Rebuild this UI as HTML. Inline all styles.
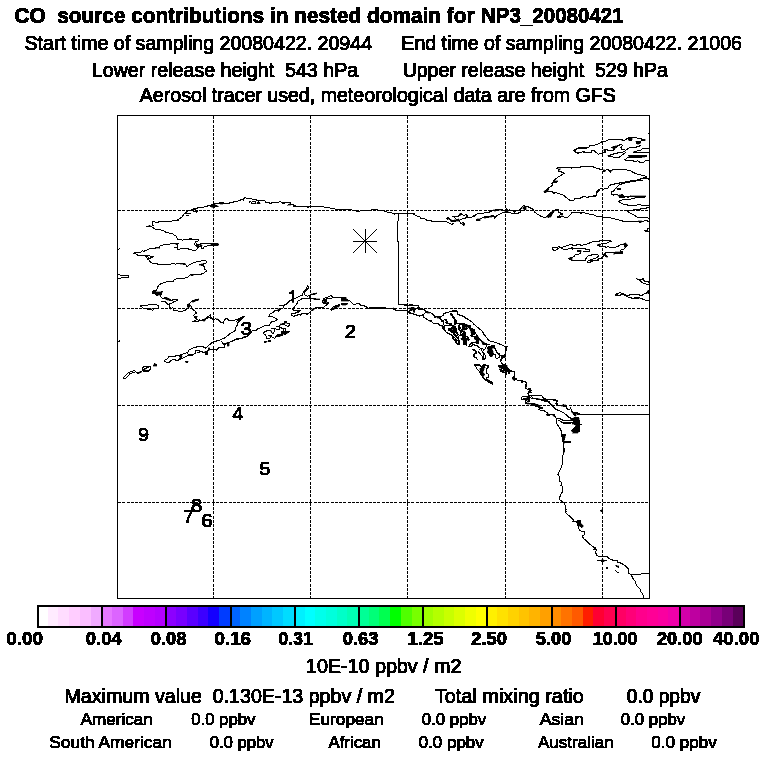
<!DOCTYPE html>
<html><head><meta charset="utf-8">
<style>
html,body{margin:0;padding:0;background:#fff;}
body{width:768px;height:768px;position:relative;overflow:hidden;}
svg{position:absolute;left:0;top:0;}
text{font-family:"Liberation Sans",sans-serif;fill:#000;white-space:pre;}
</style></head><body>
<svg width="768" height="768" viewBox="0 0 768 768">
<g shape-rendering="crispEdges">
<rect x="117.5" y="115.5" width="532" height="483" fill="none" stroke="#000" stroke-width="1"/>
<rect x="37" y="607" width="11" height="19" fill="#FFFFFF"/>
<rect x="48" y="607" width="10" height="19" fill="#FFEBFF"/>
<rect x="58" y="607" width="11" height="19" fill="#FFDCFF"/>
<rect x="69" y="607" width="11" height="19" fill="#FFCDFF"/>
<rect x="80" y="607" width="11" height="19" fill="#FABEFF"/>
<rect x="91" y="607" width="10" height="19" fill="#F0AAFF"/>
<rect x="101" y="607" width="11" height="19" fill="#E678FF"/>
<rect x="112" y="607" width="11" height="19" fill="#DC64FF"/>
<rect x="123" y="607" width="10" height="19" fill="#D23CFF"/>
<rect x="133" y="607" width="11" height="19" fill="#C800FF"/>
<rect x="144" y="607" width="11" height="19" fill="#BE00FF"/>
<rect x="155" y="607" width="10" height="19" fill="#B400FF"/>
<rect x="165" y="607" width="11" height="19" fill="#8C00FF"/>
<rect x="176" y="607" width="11" height="19" fill="#7800FF"/>
<rect x="187" y="607" width="11" height="19" fill="#5A00FF"/>
<rect x="198" y="607" width="10" height="19" fill="#3C00FF"/>
<rect x="208" y="607" width="11" height="19" fill="#1400FF"/>
<rect x="219" y="607" width="11" height="19" fill="#003CFF"/>
<rect x="230" y="607" width="10" height="19" fill="#0064FF"/>
<rect x="240" y="607" width="11" height="19" fill="#0082FF"/>
<rect x="251" y="607" width="11" height="19" fill="#00A0FF"/>
<rect x="262" y="607" width="10" height="19" fill="#00B4FF"/>
<rect x="272" y="607" width="11" height="19" fill="#00C8FF"/>
<rect x="283" y="607" width="11" height="19" fill="#00DCFF"/>
<rect x="294" y="607" width="11" height="19" fill="#00F0FF"/>
<rect x="305" y="607" width="10" height="19" fill="#00FFFF"/>
<rect x="315" y="607" width="11" height="19" fill="#00FFEB"/>
<rect x="326" y="607" width="11" height="19" fill="#00FFDC"/>
<rect x="337" y="607" width="10" height="19" fill="#00FFC8"/>
<rect x="347" y="607" width="11" height="19" fill="#00FFB4"/>
<rect x="358" y="607" width="11" height="19" fill="#00FF96"/>
<rect x="369" y="607" width="10" height="19" fill="#00FF78"/>
<rect x="379" y="607" width="11" height="19" fill="#00FF50"/>
<rect x="390" y="607" width="11" height="19" fill="#00FF00"/>
<rect x="401" y="607" width="11" height="19" fill="#50FF00"/>
<rect x="412" y="607" width="10" height="19" fill="#78FF00"/>
<rect x="422" y="607" width="11" height="19" fill="#A0FF00"/>
<rect x="433" y="607" width="11" height="19" fill="#B4FF00"/>
<rect x="444" y="607" width="10" height="19" fill="#C8FF00"/>
<rect x="454" y="607" width="11" height="19" fill="#DCFF00"/>
<rect x="465" y="607" width="11" height="19" fill="#F0FF00"/>
<rect x="476" y="607" width="10" height="19" fill="#FFFF00"/>
<rect x="486" y="607" width="11" height="19" fill="#FFF000"/>
<rect x="497" y="607" width="11" height="19" fill="#FFE100"/>
<rect x="508" y="607" width="11" height="19" fill="#FFD200"/>
<rect x="519" y="607" width="10" height="19" fill="#FFC300"/>
<rect x="529" y="607" width="11" height="19" fill="#FFB400"/>
<rect x="540" y="607" width="11" height="19" fill="#FFA000"/>
<rect x="551" y="607" width="10" height="19" fill="#FF8C00"/>
<rect x="561" y="607" width="11" height="19" fill="#FF7300"/>
<rect x="572" y="607" width="11" height="19" fill="#FF5A00"/>
<rect x="583" y="607" width="10" height="19" fill="#FF1E00"/>
<rect x="593" y="607" width="11" height="19" fill="#FF0032"/>
<rect x="604" y="607" width="11" height="19" fill="#FF0050"/>
<rect x="615" y="607" width="11" height="19" fill="#FF0064"/>
<rect x="626" y="607" width="10" height="19" fill="#FF0078"/>
<rect x="636" y="607" width="11" height="19" fill="#FF008C"/>
<rect x="647" y="607" width="11" height="19" fill="#FF0096"/>
<rect x="658" y="607" width="10" height="19" fill="#FA00A0"/>
<rect x="668" y="607" width="11" height="19" fill="#F000AA"/>
<rect x="679" y="607" width="11" height="19" fill="#D200AA"/>
<rect x="690" y="607" width="10" height="19" fill="#BE00A0"/>
<rect x="700" y="607" width="11" height="19" fill="#AA0096"/>
<rect x="711" y="607" width="11" height="19" fill="#91008C"/>
<rect x="722" y="607" width="11" height="19" fill="#780078"/>
<rect x="733" y="607" width="11" height="19" fill="#5A005A"/>
<rect x="38" y="606" width="706" height="21" fill="none" stroke="#000" stroke-width="2"/>
<rect x="101" y="606" width="2" height="21" fill="#000"/>
<rect x="165" y="606" width="2" height="21" fill="#000"/>
<rect x="230" y="606" width="2" height="21" fill="#000"/>
<rect x="294" y="606" width="2" height="21" fill="#000"/>
<rect x="358" y="606" width="2" height="21" fill="#000"/>
<rect x="422" y="606" width="2" height="21" fill="#000"/>
<rect x="486" y="606" width="2" height="21" fill="#000"/>
<rect x="551" y="606" width="2" height="21" fill="#000"/>
<rect x="615" y="606" width="2" height="21" fill="#000"/>
<rect x="679" y="606" width="2" height="21" fill="#000"/>
</g>
<g shape-rendering="crispEdges" stroke="#000" stroke-width="1" fill="none" stroke-dasharray="3 1.25">
<line x1="213.5" y1="116" x2="213.5" y2="598"/>
<line x1="310.5" y1="116" x2="310.5" y2="598"/>
<line x1="407.5" y1="116" x2="407.5" y2="598"/>
<line x1="505.5" y1="116" x2="505.5" y2="598"/>
<line x1="602.5" y1="116" x2="602.5" y2="598"/>
<line x1="118" y1="210.5" x2="649" y2="210.5"/>
<line x1="118" y1="308.5" x2="649" y2="308.5"/>
<line x1="118" y1="405.5" x2="649" y2="405.5"/>
<line x1="118" y1="502.5" x2="649" y2="502.5"/>
</g>
<clipPath id="mc"><rect x="118" y="116" width="531" height="482"/></clipPath>
<g clip-path="url(#mc)" shape-rendering="crispEdges">
<path d="M180.0 218.1 L178.1 220.2 L172.2 220.8 L171.4 221.4 L158.9 221.4 L158.1 222.5 L155.2 222.5 L154.8 221.4 L152.4 221.4 L152.4 225.3 L153.9 225.6 M146.4 226.7 L152.2 227.0 L155.2 229.3 L162.7 230.2 L164.3 231.4 L166.0 232.4 L172.7 233.7 L174.3 235.2 L176.4 236.4 L177.7 239.3 L180.0 239.3 M180.0 249.3 L177.2 249.3 L177.2 244.3 L178.9 243.5 L174.3 243.7 L166.0 244.3 L160.2 245.6 L159.3 247.7 L150.2 248.5 L146.8 250.2 L143.5 251.4 L142.7 250.6 L140.2 252.7 L134.3 252.7 L133.9 253.5 L136.8 254.3 L138.1 255.6 L145.2 255.6 L146.8 257.7 L148.5 260.0 M173.5 247.4 L177.2 247.4 M146.4 255.6 L153.9 256.4 L149.3 258.5 L146.4 255.6 M117.7 249.8 L119.8 248.5 M176.0 220.6 L178.5 219.3 L181.8 217.2 L184.3 213.9 L187.7 211.0 L192.2 209.8 L193.9 208.5 L203.5 207.2 L211.8 204.8 L215.2 203.5 L219.3 203.1 L229.3 203.1 L230.2 202.2 L236.4 201.8 L240.0 200.2 M184.3 213.9 L191.0 213.3 M185.6 215.3 L188.9 215.6 M192.7 209.3 L193.9 211.4 L196.4 212.2 L198.1 211.0 L196.0 210.2 L193.1 209.3 M180.0 239.3 L182.2 240.2 L186.0 239.5 L189.8 238.9 L198.1 239.3 L198.7 240.8 L195.6 241.7 L196.4 243.9 L198.9 245.2 L200.2 243.9 L204.3 243.5 L206.8 243.9 L211.0 243.5 M210.6 245.6 L206.8 246.0 L204.3 246.4 L203.5 248.5 L201.8 248.1 L201.0 246.0 L198.5 246.8 L195.6 250.6 L194.3 250.6 L186.8 248.5 L185.2 248.9 L181.0 248.5 L179.3 249.3 M193.9 243.5 L195.6 246.0 L198.5 246.0 M240.0 200.2 L242.2 199.3 L243.1 200.2 L243.9 198.3 L245.2 197.5 L246.0 198.2 L251.4 198.2 L252.2 199.2 L256.4 199.3 L256.8 200.8 L259.3 200.2 L264.8 200.2 L265.6 202.1 L268.9 202.5 L269.8 203.5 L271.4 203.5 L272.2 202.3 L278.9 202.3 L279.8 201.2 L281.4 202.3 L282.7 203.3 L284.3 203.3 L285.2 202.3 L290.6 202.3 L290.6 204.2 L293.5 205.0 L293.9 206.2 L300.0 206.5 M249.3 202.3 L250.6 201.2 L251.4 203.2 L255.6 203.3 L256.0 201.8 L252.2 201.7 M300.0 206.5 L307.2 206.5 L308.1 207.5 L309.3 206.5 L323.5 206.5 L324.3 207.5 L329.8 207.5 L330.6 208.5 L334.8 208.8 L335.6 209.6 L351.4 209.6 L352.7 210.4 L356.0 210.7 L357.2 211.7 L360.0 211.2 M360.0 211.0 L363.5 210.7 L371.0 210.0 L376.0 209.6 L379.3 210.2 L383.9 210.7 L385.2 211.7 L391.0 212.7 L394.3 214.2 L396.0 213.3 L398.5 213.8 L414.3 214.0 L415.6 215.4 L420.0 217.1 M398.5 213.8 L398.5 220.8 L397.7 221.2 L397.7 241.2 L398.5 241.7 L398.5 244.0 M148.1 258.1 L150.2 261.8 L152.2 263.1 L156.8 263.5 L157.7 264.3 L170.6 264.3 L171.4 263.5 L174.3 263.5 L175.2 264.3 L177.2 263.5 L180.0 263.9 M117.8 274.3 L119.8 274.8 L121.0 275.8 L128.5 275.6 L128.9 276.7 L127.7 277.7 L121.4 277.8 L120.2 278.7 L117.8 278.7 M180.0 278.1 L176.0 278.9 L174.3 279.8 L173.5 281.0 L168.1 281.4 L164.3 282.7 L161.4 283.5 L158.9 285.2 L157.2 287.7 L156.8 289.8 L155.2 290.6 L153.1 290.2 L152.7 293.1 L155.6 293.9 L156.8 295.2 L159.3 294.8 L160.2 294.8 L161.0 296.8 L162.7 298.5 L164.3 298.1 L165.2 297.2 L171.0 300.2 L177.2 299.3 L177.7 300.6 L174.3 301.4 L172.7 302.7 L170.2 303.5 L169.3 304.8 L169.3 307.7 L170.6 308.9 L172.7 307.7 L174.3 308.5 L173.5 310.2 L180.0 311.4 M161.0 301.4 L163.9 301.2 L166.0 302.2 L168.1 304.8 L169.8 303.7 M140.2 305.6 L148.1 305.2 L148.5 304.3 L156.8 304.3 L157.2 305.6 L158.5 306.0 L158.1 308.1 L153.5 308.5 L152.7 310.6 L151.4 309.3 L148.1 309.3 L146.8 308.5 L143.1 308.1 L141.8 306.8 L140.2 306.0 L140.2 305.6 M180.0 263.7 L185.6 264.3 L187.2 266.8 L189.8 264.3 L192.7 263.5 L193.5 262.2 L196.0 262.0 L201.0 261.0 L202.7 260.2 L205.2 260.3 L206.8 261.8 L205.2 263.9 L199.3 264.3 L203.1 265.6 L204.3 266.8 L204.8 269.3 L206.8 270.6 L204.8 272.2 L202.7 273.9 L193.5 274.5 L191.0 274.3 L189.3 275.6 L187.7 277.2 L184.8 278.1 L180.0 278.5 M180.0 311.4 L181.4 311.8 L184.3 310.6 L186.8 309.3 L188.5 307.7 L187.7 304.8 L189.8 303.5 L191.4 301.4 L196.0 299.8 L198.5 299.3 M189.8 305.2 L191.0 306.0 L192.2 308.5 L196.0 312.2 L196.0 313.5 L193.5 315.2 L195.2 317.7 L197.7 320.0 M203.5 320.0 L209.3 315.6 L210.6 314.3 L210.2 317.2 L212.7 318.9 M123.1 378.1 L128.5 372.7 L133.9 370.6 L135.6 371.4 L137.2 373.5 L141.0 372.0 L142.7 370.6 L142.2 368.9 L143.5 366.4 L150.6 366.4 L150.2 369.3 L148.5 371.0 L143.5 371.0 L142.7 370.6 M135.6 371.7 L129.8 373.9 L126.0 378.1 L123.1 378.1 M143.9 368.7 L147.7 367.7 L149.3 368.1 M164.3 360.6 L166.0 359.3 L167.7 358.9 L168.9 356.4 L175.2 356.4 L175.6 355.2 L180.0 355.2 M164.3 360.6 L166.0 362.2 L169.3 362.2 L172.7 359.3 L175.2 359.3 L175.6 360.2 L178.1 360.2 L180.0 359.3 M117.7 341.4 L119.8 341.0 L119.8 340.2 M195.6 316.4 L196.8 319.8 L192.7 321.4 L198.1 321.2 L199.3 320.0 L202.7 320.2 L205.2 319.3 L209.3 317.2 L212.7 319.3 L216.0 318.9 L218.5 319.8 L221.0 322.7 L223.5 323.1 L224.3 320.2 L226.8 318.1 L228.1 319.8 L231.0 321.0 L236.0 319.8 L240.0 318.5 M240.0 321.0 L238.1 321.8 L237.7 324.3 L236.0 326.8 L235.2 330.6 L230.2 333.5 L225.2 337.7 L219.3 340.2 L212.7 342.2 L209.3 344.8 L206.0 348.1 L204.3 347.7 L202.7 346.4 L198.5 346.4 L192.7 348.1 L189.3 349.8 L187.7 352.2 L188.1 354.8 L192.7 354.8 L195.6 353.1 L196.0 350.6 L198.5 350.2 L200.2 351.8 L204.3 352.2 L205.6 353.1 M176.0 356.0 L179.3 355.2 L183.5 353.9 L187.2 352.7 M176.0 360.6 L181.0 358.9 L186.8 356.0 L192.7 355.0 M240.0 338.1 L236.0 338.9 L233.5 340.6 L229.3 342.2 L225.2 343.5 L223.1 343.1 L221.4 341.4 L223.1 343.9 L225.2 344.8 L224.3 347.2 L217.7 348.1 L216.8 350.2 L215.2 349.3 L209.3 349.3 L207.7 351.0 L206.8 352.7 M196.8 352.4 L200.2 352.0 M300.0 296.0 L294.3 298.9 L289.3 301.0 L286.0 304.3 L282.7 305.6 L283.9 307.7 L281.0 308.5 L278.5 311.0 L275.6 310.2 L272.7 312.7 L270.2 313.9 L268.9 316.8 L271.8 316.4 L275.2 318.1 L277.2 319.3 L275.2 321.0 L271.8 321.4 L268.9 325.6 L267.2 326.0 L266.0 325.2 L257.7 328.9 L256.4 330.2 L252.2 331.0 L248.5 335.6 L245.2 337.2 L239.3 338.9 L236.0 339.3 M278.9 305.3 L285.2 305.3 M240.0 318.5 L241.8 317.2 L244.3 316.4 L242.2 318.1 L240.0 321.0 L238.1 321.8 L237.7 324.3 M236.0 321.4 L238.5 320.6 L241.0 318.9 M300.0 300.2 L297.7 301.0 L297.2 303.5 L295.6 305.2 L293.5 308.1 L292.7 309.3 L294.3 311.0 L300.0 310.2 M300.0 311.8 L296.0 312.7 L294.3 313.5 L291.8 313.9 L291.4 315.2 L293.5 316.4 L298.1 314.8 L300.0 313.9 M300.0 296.0 L302.2 295.2 L302.7 293.1 L306.8 288.5 L307.2 285.6 L308.5 286.4 L308.5 288.1 L304.8 292.2 L304.3 294.8 L307.7 296.4 L309.3 295.2 L310.6 294.8 L316.8 293.5 M309.3 296.4 L309.8 298.1 L313.9 298.9 L319.8 299.3 M300.0 299.8 L302.7 298.5 L307.7 298.1 L309.8 298.5 M300.0 314.3 L300.2 315.6 L301.8 313.9 L306.0 313.5 L306.8 314.8 L310.6 311.4 L313.9 308.9 L316.0 307.7 L322.7 307.7 L325.2 306.0 L327.7 303.9 L328.9 302.7 L326.8 301.8 L326.4 300.6 L326.8 298.9 L329.3 298.1 L331.0 298.9 L332.7 297.5 L331.4 295.6 L329.3 296.4 L327.2 297.2 L323.9 298.5 L322.7 301.0 L323.1 303.1 L325.2 303.5 M296.0 312.2 L299.3 311.4 L300.6 310.6 M332.7 297.7 L341.4 297.8 L346.0 299.3 L350.2 301.0 L353.5 304.3 L356.8 303.9 L360.0 303.5 M330.6 309.3 L332.7 307.2 L339.3 304.3 L339.8 305.6 L336.8 307.2 L331.8 310.2 L330.6 309.3 M356.0 303.8 L359.3 303.8 L360.2 305.0 L363.5 305.4 L366.8 307.1 L368.5 308.3 L371.0 307.5 L385.2 307.5 L386.0 308.5 L392.7 308.5 L396.0 310.4 L407.2 310.4 L407.2 312.5 L410.2 313.3 L414.3 314.2 L420.0 316.2 M398.8 280.0 L398.8 304.3 L407.7 304.6 L407.7 305.4 L418.1 305.4 L420.0 309.2 M407.7 305.4 L407.7 310.4 M409.3 312.1 L411.0 308.3 L413.5 307.5 L414.3 312.5 M414.3 310.0 L416.0 308.8 L418.1 306.7 M404.0 305.0 L407.3 305.4 L411.9 304.6 L413.2 305.4 L418.2 305.4 L418.6 307.1 L417.3 308.8 L419.8 309.6 L424.0 309.6 L425.7 310.8 L428.2 312.1 L431.5 313.3 L434.0 315.4 L434.8 317.1 L437.3 316.7 L441.5 316.2 L443.2 315.4 L443.6 313.8 L446.5 312.5 L450.2 311.7 L454.0 310.0 L457.3 311.2 L458.2 314.6 L461.5 315.8 L468.0 319.2 M407.3 305.4 L407.3 310.8 M404.0 310.4 L407.8 310.8 L409.0 312.5 L412.3 313.3 L419.8 316.2 L423.6 314.6 L424.0 317.5 L428.2 320.0 L431.5 321.7 L434.0 323.8 L438.2 323.8 L439.8 325.4 L442.3 325.0 L443.2 329.2 L444.8 330.0 L446.5 332.5 L449.0 333.3 L452.3 336.2 L453.2 338.8 L455.2 340.0 L457.8 344.6 L459.4 344.6 L459.0 340.0 L457.3 337.5 L455.7 335.0 L454.0 333.3 L450.7 331.7 L449.0 329.2 L451.5 327.9 L454.8 329.2 L456.1 331.7 L454.0 330.8 M423.6 314.6 L425.7 312.5 L429.0 312.9 M450.7 313.8 L452.3 316.7 L454.0 319.2 L454.8 321.7 L457.3 323.3 L459.8 324.2 L462.3 325.0 L465.7 325.8 M437.3 317.1 L440.7 318.8 L442.3 320.8 L444.8 319.6 L446.5 320.8 L445.7 322.9 L448.2 323.3 L450.7 325.0 L453.2 325.8 L455.7 327.1 L456.5 330.0 L457.3 333.3 L459.0 335.0 M440.7 318.8 L441.5 321.2 L444.0 322.1 L443.2 325.0 M459.0 324.6 L459.4 327.5 L461.5 329.2 L460.7 331.7 L462.3 333.3 L461.5 335.4 L464.0 336.7 L466.5 338.3 L468.0 339.2 M462.3 325.0 L463.2 327.5 L465.7 329.2 L468.0 328.3 M463.2 340.8 L466.5 340.8 L466.5 345.0 L463.6 344.6 L463.2 340.8 M452.0 311.1 L457.0 311.5 L457.8 314.8 L462.0 315.2 L467.0 319.0 L472.8 322.3 L473.7 324.0 L479.5 329.0 L482.0 330.7 L483.7 334.0 L487.8 339.0 L488.7 340.7 L492.8 341.5 L498.7 343.6 L505.3 346.5 L507.4 346.5 L505.3 350.7 L505.3 354.0 L503.7 355.7 M452.0 316.5 L454.5 319.0 L454.1 321.9 L457.0 323.2 L461.2 324.4 L464.5 325.2 M452.0 325.7 L455.3 326.5 L455.8 329.8 L452.8 331.5 L452.0 332.3 M452.0 335.7 L454.5 337.3 L457.0 340.7 L459.5 340.7 L459.5 344.0 L457.4 344.4 L455.3 341.5 L452.8 339.0 M458.7 325.7 L461.2 329.0 L460.3 332.3 L463.2 331.5 L465.3 334.0 L462.0 337.3 L465.3 339.0 M468.7 345.7 L471.2 343.2 L473.7 344.8 L477.0 345.7 L480.3 348.2 L482.0 350.7 L483.7 353.2 L485.3 355.7 L485.3 359.0 L482.8 359.0 L482.4 356.5 L480.3 354.0 L477.8 351.5 M472.0 349.8 L475.3 350.7 L477.0 353.2 L473.7 354.0 L473.2 356.5 L476.2 358.2 L477.4 359.4 M481.2 340.7 L483.7 343.2 L487.0 344.0 L486.2 346.5 L485.3 349.0 L482.8 350.7 M493.7 345.7 L495.3 349.0 L497.4 353.2 L499.5 355.7 L502.0 355.7 L501.2 359.0 L500.3 361.5 L502.8 364.0 L505.3 364.8 M474.5 365.2 L479.5 364.8 L481.2 367.3 L483.7 365.7 L487.8 365.2 L488.7 368.0 M464.5 325.2 L467.8 325.7 L471.2 328.2 L474.5 329.8 L475.3 333.2 L477.8 336.5 L479.5 339.0 L481.2 340.7 M462.4 326.5 L466.6 325.7 L466.2 329.8 L462.8 329.4 L462.4 326.5 M474.1 364.8 L479.5 365.2 L480.8 366.9 L483.7 364.8 L488.2 365.2 L487.8 368.2 L486.2 369.0 L486.2 373.2 L488.7 374.4 L488.2 377.3 L486.6 377.8 L487.0 379.8 L489.5 380.7 L492.8 382.8 L492.4 384.4 L490.3 383.2 L487.8 381.5 L485.3 379.8 L482.8 377.3 L480.8 374.4 L479.5 371.5 L477.0 369.0 L475.8 366.5 L474.1 364.8 M498.2 366.1 L502.0 365.2 L505.3 366.5 L507.0 368.2 L509.5 370.7 L514.5 371.5 L514.5 376.5 L512.8 377.8 L514.1 380.2 L516.0 379.0 M499.5 369.4 L502.0 371.5 L505.3 372.3 L506.2 374.8 M505.0 346.5 L507.5 346.5 L506.2 348.3 L505.8 352.5 L504.6 355.0 L502.9 356.2 L501.7 359.2 L500.8 361.7 L502.1 364.2 L505.0 365.0 L505.8 367.5 L508.3 369.2 L509.6 371.2 L514.6 371.5 L514.8 375.8 L513.3 377.1 L513.8 380.0 L516.2 378.8 L516.7 380.0 L521.7 380.4 L522.5 381.7 L525.0 381.2 L526.7 383.3 L525.4 385.4 L525.8 388.8 L528.3 389.2 L530.4 388.3 L528.8 390.0 L531.2 390.4 L528.8 392.1 L527.5 393.3 L528.8 395.4 L531.7 396.2 L533.3 395.4 L541.7 395.4 L542.9 397.5 L545.0 398.3 L546.7 399.6 L553.3 399.6 L557.5 400.4 L556.7 402.9 L557.5 404.0 M521.2 397.5 L522.5 396.7 L527.5 396.7 L529.2 397.9 L527.9 398.8 L523.3 398.8 L522.1 399.6 L521.2 398.3 L521.2 397.5 M525.0 401.2 L526.7 400.0 L529.2 399.2 L529.2 401.7 L526.7 402.1 L525.8 404.0 M531.7 397.5 L536.7 399.2 L541.7 399.6 L545.0 401.2 L549.2 401.7 L550.0 404.0 M500.0 366.7 L502.5 367.5 L504.2 370.8 L502.5 372.1 L500.0 370.8 M506.2 367.5 L509.2 370.0 L509.2 373.3 L507.5 373.3 M528.5 388.0 L531.0 389.7 L528.5 391.3 L531.4 392.2 L527.7 393.4 L528.5 395.1 L532.7 395.9 L541.8 395.5 L543.1 398.0 L547.7 399.7 L552.7 399.2 L554.3 400.5 L557.7 400.5 L556.0 403.4 L557.7 405.1 L561.0 405.9 L563.5 404.7 L566.0 405.9 L566.8 408.8 L569.3 409.7 L570.6 408.0 L571.8 411.3 L574.3 413.0 L577.7 413.0 L580.0 413.8 M521.0 397.6 L522.7 396.3 L529.3 396.8 L531.0 398.0 L536.8 398.8 L543.5 400.5 L548.5 401.8 L551.0 404.7 L553.5 406.8 L555.2 408.8 L558.5 410.5 L562.7 412.2 L566.0 414.7 L568.5 417.2 L572.7 418.8 M521.0 397.6 L521.8 399.2 L526.0 400.1 L525.2 401.8 L526.4 403.4 L531.0 403.4 L533.5 405.5 L537.7 406.8 L539.3 408.0 L542.7 408.0 L538.5 409.2 L541.0 410.5 L544.3 410.9 L547.7 413.0 L546.8 414.7 L549.3 415.1 L552.7 414.7 L555.2 416.8 L556.8 418.8 L559.3 418.4 L562.7 420.1 L567.7 420.5 L572.7 420.9 M556.8 418.8 L556.0 421.3 L556.8 423.8 L559.3 427.2 L561.0 430.5 L561.8 434.7 L562.7 441.3 L570.6 441.8 M563.5 441.3 L563.9 452.0 M557.7 420.1 L561.0 421.3 L562.7 423.0 L571.0 423.0 L574.3 421.3 M576.7 414.5 L650.0 414.5 M580.0 424.4 L582.1 424.4 M564.0 448.0 L563.8 451.3 L562.9 455.5 L562.5 463.4 L561.2 467.6 L559.6 470.5 L558.3 474.2 L557.5 474.7 L559.6 476.3 L559.6 481.3 L561.7 482.2 L561.7 485.1 L560.4 485.1 L562.5 486.3 L562.5 491.8 L561.2 493.4 L559.6 497.6 L559.6 499.7 L561.7 501.3 L564.2 503.0 L565.0 504.7 L565.4 509.7 L566.7 512.0 M565.4 508.0 L566.2 509.7 L565.4 512.2 L567.9 514.7 L571.7 518.0 L573.8 520.5 L572.1 521.3 L577.5 522.2 L577.9 524.7 L578.3 528.4 L580.4 530.9 L584.2 531.8 L584.6 534.7 L582.5 535.5 L583.3 538.4 L585.8 540.1 L589.2 543.8 L593.3 546.8 L595.4 548.0 L593.8 549.2 L596.7 549.7 L595.4 551.8 L596.7 555.5 L598.3 556.3 L606.7 556.3 L609.2 558.4 L612.1 560.1 L614.0 560.5 M597.1 560.5 L606.7 560.5 M612.1 560.0 L617.5 560.4 L617.9 562.9 L619.2 562.1 L623.3 564.6 L625.8 566.2 L628.3 568.8 L628.3 573.3 L630.8 574.2 L633.3 579.2 L635.4 581.7 L636.2 585.0 L640.0 588.8 L640.4 591.7 L642.9 593.8 L643.3 597.9 M630.8 574.2 L640.8 574.2 L641.2 573.3 L649.6 573.3 M615.4 570.4 L617.1 572.1 L618.8 572.5 M420.0 217.1 L420.2 218.1 L424.3 218.5 L426.8 220.2 L431.0 220.6 L431.8 221.4 L446.0 221.4 L448.9 223.1 L451.8 224.3 L454.3 223.1 M446.4 218.5 L448.1 217.2 L450.2 219.3 L451.8 221.0 M452.2 216.4 L458.5 216.4 L460.2 213.9 L461.8 213.9 L463.5 215.2 L466.8 214.8 L467.2 216.4 L465.2 218.1 L462.7 218.5 L459.3 220.6 L460.2 222.7 L463.5 225.2 L464.8 223.9 L461.4 221.8 M465.2 218.1 L471.8 217.2 L472.7 216.0 L475.2 216.0 L476.0 214.3 L480.0 213.1 M454.3 216.8 L455.6 218.5 M479.3 213.8 L489.3 212.1 L492.7 210.4 L497.7 209.6 L501.0 209.3 L504.3 210.4 L509.3 210.0 L512.7 210.4 L514.3 212.1 L516.0 210.8 L519.3 210.0 L521.4 207.9 L523.1 205.8 L526.0 206.2 L528.1 206.7 L531.0 208.3 L532.7 208.8 L534.3 211.7 L537.7 214.6 L540.0 215.4 M476.0 220.4 L479.3 219.2 L483.5 217.1 L489.3 216.2 L493.9 215.8 L494.8 218.3 L496.4 216.2 L501.0 213.3 L504.3 212.5 L509.3 212.1 L512.7 213.8 L516.8 213.8 L520.2 212.1 L522.2 209.6 M540.0 215.8 L541.8 216.7 L544.3 217.5 L546.8 216.7 L552.7 212.1 L556.0 209.6 L558.5 210.0 L558.9 212.5 L562.7 213.8 L560.2 215.0 L557.7 216.7 L560.2 217.1 L562.7 216.2 L565.2 217.5 L568.1 217.1 L570.2 215.0 L571.8 212.5 L579.3 212.3 L581.0 213.3 L582.7 212.3 L586.0 213.3 L590.2 214.2 L594.3 215.0 L596.8 216.7 L600.0 216.7 M544.3 192.1 L546.0 191.2 L551.8 191.5 L553.9 193.3 L556.0 192.5 L560.2 194.2 L562.7 194.6 L566.8 197.9 L570.2 200.4 L573.5 200.4 L575.2 198.3 L581.8 197.9 L583.5 196.2 L587.7 197.5 L590.2 196.2 L596.0 195.8 L596.8 191.7 L600.0 190.8 M552.2 247.5 L556.8 247.5 L558.9 246.7 L560.6 247.5 L561.8 247.5 L569.3 245.0 L571.8 244.6 L573.5 245.4 L579.3 244.6 L581.4 245.4 L587.7 243.8 L591.8 242.1 L596.0 241.2 L598.1 242.1 L600.0 240.8 M552.2 247.5 L552.2 249.6 L554.8 250.4 L557.2 249.6 L558.5 247.9 M561.0 248.3 L563.5 249.2 L567.7 249.2 L571.8 247.9 L572.7 249.6 L572.2 247.5 M572.7 248.3 L585.2 248.3 L586.0 249.6 L589.3 249.6 L589.3 251.2 L582.7 251.2 M580.2 251.7 L580.2 254.0 M600.0 216.7 L602.5 217.1 L609.2 217.5 L614.2 218.8 L619.2 220.0 L625.0 221.7 L638.3 221.7 L643.3 221.2 L645.0 220.4 L649.6 221.5 M590.0 196.2 L595.8 196.2 L596.7 194.2 L597.5 191.7 L599.6 190.4 M615.0 190.0 L613.3 191.2 L611.2 192.1 L611.2 193.8 L613.3 195.0 L617.5 194.6 L619.2 196.2 L625.0 196.7 L628.3 197.1 L630.0 196.2 L645.8 196.2 L644.2 197.5 L635.8 197.9 L630.0 199.2 L621.7 200.0 L618.3 201.2 L620.8 202.9 L624.2 204.6 L630.8 205.4 L635.8 205.4 L638.3 204.6 L643.3 205.4 L649.6 205.7 M649.6 207.9 L641.7 208.2 L640.0 209.2 L627.5 210.8 L629.2 212.5 L631.7 213.8 L635.0 215.8 L637.5 217.1 L646.7 217.3 L649.6 218.8 M649.6 228.3 L647.5 228.5 L647.1 230.4 L644.2 230.7 L646.7 231.7 L649.6 231.5 M600.0 240.4 L600.8 240.0 L605.0 240.8 L607.9 240.0 L611.7 241.2 L608.8 242.1 L606.7 243.3 L602.5 243.8 L599.2 244.2 L597.5 245.4 L600.8 246.7 L606.7 247.1 L607.9 246.2 L610.0 247.5 L615.0 247.5 L618.3 246.2 L620.4 244.6 L624.2 244.2 L625.8 247.5 L623.3 249.6 L620.8 250.0 L620.0 252.1 L605.8 252.1 L605.0 254.0 M556.4 168.4 L558.1 167.2 L571.0 167.2 L571.8 168.4 L573.1 167.2 L581.0 167.0 L581.4 166.2 L592.7 166.2 L593.5 167.2 L596.0 168.0 L600.0 169.2 M556.4 168.4 L558.5 169.2 L558.5 171.3 L561.0 171.8 L564.3 173.4 L561.8 174.7 L558.5 176.8 L556.0 178.8 L553.1 180.9 L557.7 181.3 L556.0 182.6 L551.8 183.0 L552.7 185.1 L551.0 186.3 L548.5 188.0 L546.0 190.1 L544.3 191.8 L552.7 191.8 M573.5 150.5 L576.0 149.2 L578.5 148.0 L586.8 148.0 L589.3 146.8 L589.3 145.5 L591.8 145.9 L597.7 144.2 L600.0 143.4 M573.5 150.5 L575.2 151.8 L576.8 153.0 L579.3 153.0 L581.0 152.2 L583.5 151.8 L586.0 152.6 L589.3 153.0 L591.0 152.6 L591.4 150.5 L594.3 150.3 L595.2 151.8 L598.5 154.2 L600.0 153.0 M596.0 192.0 L600.0 188.8 M599.2 143.4 L601.7 141.8 L606.7 140.9 L609.2 139.2 L621.7 139.2 L623.3 140.5 L625.8 139.7 L627.5 138.4 L630.4 137.2 L635.8 137.2 L637.5 138.4 L641.2 138.8 L645.0 139.7 M640.8 145.1 L638.3 146.8 L635.0 147.2 L629.2 148.0 L625.8 150.1 L621.7 149.7 L620.8 147.6 L622.5 145.5 L620.8 144.2 L618.3 145.9 L615.0 146.8 L611.7 147.6 L615.0 148.8 L612.5 150.9 L609.2 150.9 L606.7 149.7 L604.2 149.7 L604.2 152.2 L601.7 153.4 L600.0 154.0 M608.3 155.9 L610.8 154.7 L617.5 153.0 L624.2 151.8 L625.8 152.2 L622.5 154.7 L619.2 157.2 L613.3 157.2 L610.8 156.3 L608.3 155.9 M624.6 159.7 L626.7 158.4 L629.2 156.8 L646.7 156.3 M633.3 152.6 L635.4 151.3 L640.8 150.1 L642.5 148.4 L649.6 148.4 M635.4 152.6 L649.6 152.6 M624.6 159.7 L626.7 160.5 L633.3 160.5 L634.2 161.8 L637.5 160.9 L640.0 162.2 L643.3 162.6 L645.0 160.9 L647.5 160.1 L649.6 161.3 M600.0 169.0 L602.5 169.7 L605.0 170.9 L607.5 169.2 L609.6 171.3 L613.3 169.2 L625.8 169.2 L627.5 170.5 L630.8 170.9 L635.0 173.4 L640.0 174.7 L644.2 175.9 L646.7 176.3 L645.8 178.0 L643.3 178.0 L649.6 179.2 M643.3 178.0 L640.0 179.2 L636.7 180.1 L631.7 180.5 L626.7 181.8 L623.3 182.2 L617.5 183.4 L610.8 184.7 L609.2 185.9 L607.9 188.0 L603.3 189.2 L600.8 188.4 L598.3 190.1 L595.8 192.0 M643.3 180.1 L636.7 180.9 L629.2 182.2 L623.3 183.4 L619.2 184.7 L616.7 187.2 L613.3 190.5 L611.7 192.0 M647.9 133.4 L649.6 133.4 M580.2 251.4 L580.6 253.5 L577.7 254.3 L575.2 254.8 L573.9 256.8 L571.0 257.7 L568.5 258.5 L572.7 260.6 L585.2 260.6 L586.0 258.5 L587.2 256.4 L590.2 255.2 L592.7 254.3 L597.7 254.3 L598.5 256.0 L596.8 257.7 L594.3 258.5 L591.0 259.8 L588.1 261.0 L587.7 262.2 L589.8 262.7 L591.0 261.4 L594.3 260.6 L598.1 260.2 L600.0 258.1 M621.7 252.7 L615.0 253.5 L613.3 252.7 L605.8 252.2 L604.6 253.9 L603.8 255.6 L601.7 258.1 L598.3 258.5 L597.5 260.2 L593.3 261.0 L590.0 261.0 M590.0 255.6 L594.2 254.3 L597.9 254.8 L598.3 256.4 L595.8 258.1 L592.5 259.3 L590.0 260.2 M636.2 278.9 L639.2 279.3 L643.3 278.9 L643.3 280.2 L645.0 281.4 L649.6 282.2 M639.2 279.8 L642.5 282.7 L646.7 284.3 L649.6 285.2 M615.0 294.8 L617.5 293.5 L620.0 292.7 L623.3 293.5 L626.7 295.2 L633.3 294.8 L636.7 294.3 L641.7 295.6 L645.0 293.5 L647.5 292.7 L648.3 290.2 L649.6 290.2 M615.0 294.8 L618.3 295.6 L623.3 294.3 L625.8 296.0 L630.0 297.7 L634.2 298.5 L636.7 297.2 L640.0 298.1 L643.3 299.3 M398.2 241.0 L398.2 281.0 M643.3 299.3 L646.7 300.6 L649.6 300.6 M581.5 424.3 L579.8 424.3 M450.2 313.9 L451.8 313.2 L452.4 315.8 L454.6 317.6 L455.2 320.1 L456.8 321.4 L454.6 321.4 L454.6 324.5 L457.1 323.2 L460.9 323.9 L464.6 323.9 L464.6 325.4 M444.0 318.9 L446.5 319.8 L445.2 320.8 L447.1 321.4 L447.8 323.6 L450.9 323.2 L451.5 325.1 L447.8 325.1 L444.6 325.4 L444.6 330.1 L447.1 333.2 L450.2 334.2 L452.8 336.1 L453.1 337.6 L452.1 338.6 L454.6 339.5 L457.1 343.9 L459.0 344.2 L459.0 340.1 L456.5 340.4 M449.0 328.2 L452.1 328.2 L455.2 327.0 L455.9 328.9 L452.8 330.1 L449.0 330.4 L449.0 328.2 M450.2 330.8 L453.4 332.6 L456.5 332.6 L458.4 337.0 L457.8 338.2 L455.2 336.4 L453.4 333.9 M459.0 325.4 L459.0 329.5 L460.9 332.6 L459.6 335.8 L462.8 334.5 L465.2 332.6 L462.8 330.8 L462.1 327.6 L464.6 326.4 L467.8 325.4 L470.2 325.8 L469.0 328.2 L471.5 328.9 L474.0 330.1 L475.2 332.6 L473.4 334.5 L470.9 335.8 L473.4 337.0 L476.5 336.4 L479.0 338.9 L478.4 343.2 L476.5 343.9 L475.2 342.0 L472.8 342.6 L470.2 343.2 L469.0 346.4 L471.5 346.1 L474.0 344.5 M460.9 338.9 L464.6 338.2 L466.5 340.8 L466.2 345.1 L463.4 344.5 L463.4 340.8 M471.5 350.1 L474.0 349.5 L476.5 352.0 L474.6 353.2 L474.0 355.8 L476.5 358.2 L477.8 360.0 M479.0 349.5 L481.5 348.2 L484.0 349.5 L482.1 352.0 L484.0 354.5 L483.4 357.6 L482.8 360.0 M481.5 341.4 L484.0 343.2 L487.1 344.5 L489.6 344.2 M465.2 335.8 L467.8 337.0 L469.0 339.5 L467.8 341.4 M487.2 347.2 L490.4 346.6 L492.9 345.4 L494.8 346.0 L494.8 348.5 L496.6 351.0 L497.2 353.5 L499.8 354.1 L499.8 357.2 L496.6 358.5 L495.4 357.2 L495.4 354.8 L493.5 354.1 L491.6 356.6 L489.8 356.0 L488.5 352.9 L487.2 351.6 L489.1 349.8 L487.2 348.5 L487.2 347.2 M498.2 366.3 L499.8 365.1 L501.6 365.4 L502.9 364.4 L505.4 364.4 L506.0 366.6 L507.9 368.5 L509.8 370.1 L509.8 373.5 L508.2 373.5 L508.2 371.6 L506.6 371.3 L506.0 374.1 L505.1 374.1 L505.1 372.2 L502.9 372.6 L501.0 371.0 L499.1 369.4 L501.0 369.8 L503.5 371.0 L504.4 370.1 L502.2 368.5 L500.4 367.2 L498.2 366.3 M263.2 333.4 L264.8 331.6 L268.4 330.3 L271.0 331.1 L272.1 333.2 L273.6 333.2 L274.7 330.6 L275.2 328.5 L271.0 328.5 M263.2 333.4 L265.8 334.8 L266.3 337.9 L267.9 338.7 L270.0 337.9 L270.5 335.8 L268.4 335.5 M271.0 335.8 L272.1 337.4 L274.7 338.4 L275.7 336.8 L278.8 335.8 M276.2 326.4 L279.4 326.4 L280.4 324.3 L284.0 323.6 L285.1 325.4 L287.7 326.4 L289.8 325.4 L289.8 323.6 L287.2 323.3 M276.2 329.3 L279.4 329.3 L279.4 326.4 M280.4 327.5 L282.5 328.5 L285.1 328.5 L285.6 331.1 L284.0 331.1 L283.5 329.5" fill="none" stroke="#000" stroke-width="1.05" stroke-linejoin="round"/>
<path d="M146.4 226.7 L149.8 225.2 L152.2 227.0Z M156.0 248.1 L159.8 246.7 L159.8 248.5Z M174.3 243.7 L178.9 243.1 L177.2 244.8Z M211.4 204.8 L213.9 203.1 L216.0 205.2 L218.9 206.4 L215.2 206.8 L213.9 208.5 L212.7 207.2 L210.2 206.8Z M219.3 202.5 L223.9 202.2 L223.9 203.7 L221.4 204.3 L219.3 203.9Z M210.6 243.3 L218.1 243.3 L218.9 244.3 L218.1 245.6 L210.6 245.6Z M188.5 239.5 L189.8 238.1 L191.0 239.5Z M199.3 244.8 L201.0 243.9 L202.2 245.6 L200.6 246.4Z M256.8 203.3 L258.3 201.2 L260.0 202.5 L260.0 203.8 L256.8 203.8Z M287.2 205.4 L289.3 203.3 L291.0 205.4Z M281.8 202.3 L285.2 202.3 L284.3 203.5 L282.7 203.5Z M293.1 205.4 L295.6 205.4 L295.6 206.5 L293.5 206.5Z M152.2 293.1 L153.5 290.2 L156.0 290.3 L155.6 293.9Z M156.0 291.8 L162.7 291.4 L161.4 295.2 L156.8 295.2Z M164.8 297.7 L166.8 297.4 L171.0 299.3 L170.6 300.8 L166.0 299.8Z M146.8 308.3 L151.0 308.3 L151.0 309.8 L147.2 309.8Z M169.3 306.8 L171.4 307.7 L170.6 309.2 L169.3 308.5Z M179.8 263.3 L185.2 263.3 L185.6 264.5 L180.2 264.3Z M198.9 264.1 L203.5 263.9 L203.1 265.6 L199.3 265.3Z M190.6 274.3 L193.1 274.5 L192.7 276.0 L191.0 275.8Z M187.2 304.3 L189.8 303.5 L191.4 306.0 L189.8 306.8 L188.5 308.5 L187.7 307.7Z M191.4 301.4 L196.0 299.2 L198.9 298.9 L198.5 300.2 L195.2 301.4 L192.7 302.7Z M153.1 365.6 L154.3 363.3 L156.8 364.3 L156.8 366.0 L153.1 366.0Z M136.8 372.7 L141.0 371.2 L141.4 372.5 L137.7 373.9Z M143.1 369.3 L145.2 368.1 L145.6 369.3 L143.9 370.2Z M194.3 316.0 L197.7 316.0 L197.2 317.2 L195.2 317.2Z M202.2 319.2 L205.6 318.9 L205.2 321.2 L202.7 321.4Z M216.0 318.5 L217.7 318.5 L218.1 319.8 L216.4 319.5Z M226.8 342.2 L229.3 342.0 L229.3 346.4 L227.2 346.4Z M208.1 347.7 L209.8 347.5 L209.8 350.2 L208.1 350.2Z M204.8 351.4 L207.7 351.0 L207.7 354.8 L205.2 354.8Z M185.2 361.0 L188.1 361.2 L187.7 362.8 L186.0 362.5Z M178.5 356.0 L181.8 354.8 L182.2 356.8 L180.6 359.3 L178.9 359.3 L179.8 357.2Z M277.7 309.3 L280.2 308.1 L281.0 309.3 L278.9 311.0Z M243.9 336.4 L246.8 336.0 L246.4 337.2 L244.3 337.7Z M311.4 293.9 L316.8 292.8 L316.8 293.9 L312.7 295.2Z M313.9 298.5 L319.8 298.9 L319.8 299.8 L314.3 299.5Z M341.0 297.2 L346.0 297.2 L346.0 298.5 L348.1 299.8 L349.3 301.0 L341.4 301.0Z M341.0 303.5 L347.7 303.1 L347.2 304.8 L343.9 305.6 L341.4 304.8Z M323.1 299.8 L326.0 298.9 L326.4 302.7 L328.5 302.2 L328.1 304.3 L324.3 303.5Z M332.7 308.1 L339.3 304.2 L340.0 305.6 L333.5 309.3Z M311.8 309.3 L315.2 307.7 L315.2 308.9 L312.7 310.6Z M371.0 307.5 L383.5 307.5 L383.5 308.8 L371.4 308.8Z M393.1 307.9 L395.6 308.3 L396.0 309.8 L393.5 309.6Z M411.0 307.9 L414.3 307.5 L414.8 312.5 L413.5 312.1 L413.1 309.2 L411.4 310.0Z M409.4 307.9 L412.3 307.1 L414.8 307.9 L414.4 312.5 L413.2 312.1 L412.8 309.6 L411.1 310.8 L409.8 310.4Z M425.2 311.2 L429.0 312.1 L429.8 313.3 L426.1 312.9Z M436.5 316.7 L440.2 316.2 L440.7 317.9 L437.3 318.3Z M441.9 325.8 L444.4 326.2 L444.4 329.2 L442.3 328.8Z M429.4 320.4 L431.5 320.4 L431.5 321.7 L429.8 321.7Z M449.0 328.3 L451.9 327.9 L452.3 329.6 L449.8 330.0Z M462.3 324.2 L468.0 324.6 L468.0 326.7 L464.8 327.1 L465.2 329.2 L463.2 328.8Z M461.5 337.9 L465.7 337.5 L468.0 339.2 L468.0 340.4 L462.3 340.0Z M464.0 341.7 L466.1 341.7 L466.1 344.2 L464.0 344.2Z M450.2 313.8 L451.5 313.3 L452.3 315.8 L451.1 315.8Z M488.7 350.7 L492.8 350.2 L493.7 354.0 L491.2 356.5 L489.1 354.8Z M498.7 365.7 L507.0 365.2 L507.0 368.0 L499.1 368.0Z M482.0 341.5 L485.3 343.2 L484.9 344.8 L482.4 344.0Z M452.0 325.2 L455.3 325.7 L455.3 326.9 L452.0 326.9Z M479.5 368.2 L482.0 367.3 L484.1 365.7 L485.3 366.5 L483.7 369.8 L483.2 373.2 L485.3 374.0 L483.7 376.5 L481.6 374.8 L480.3 371.5Z M486.2 379.0 L487.8 379.4 L492.8 382.8 L492.4 384.4 L488.7 381.9Z M502.0 364.0 L505.3 364.0 L507.0 367.3 L509.5 370.2 L507.0 372.3 L504.5 370.7 L505.3 369.0 L502.8 367.3Z M512.4 377.3 L514.5 376.5 L516.0 378.2 L514.5 380.2Z M501.7 355.4 L505.0 355.0 L505.4 357.5 L502.9 357.9Z M512.1 377.5 L513.8 376.7 L515.4 378.8 L514.6 380.8 L512.9 379.6Z M520.8 380.4 L522.9 380.4 L522.9 382.5 L521.2 382.5Z M525.0 385.0 L526.7 385.0 L526.7 387.1 L525.4 387.1Z M538.3 398.8 L546.7 399.6 L546.7 401.2 L541.7 400.4Z M526.7 402.9 L533.3 403.2 L533.3 404.0 L526.7 404.0Z M527.1 397.5 L529.6 397.5 L529.6 401.2 L527.9 401.2Z M526.0 397.6 L529.3 397.2 L529.8 398.8 L526.4 398.8Z M531.0 403.4 L533.9 403.0 L541.0 405.9 L540.2 406.8 L533.5 405.9Z M542.7 399.2 L547.7 399.7 L548.1 401.3 L543.5 400.9Z M551.0 404.7 L553.5 405.1 L553.9 406.8 L552.2 406.8Z M546.0 414.2 L549.3 413.8 L549.8 415.5 L546.8 415.5Z M551.8 414.2 L554.8 414.2 L555.2 416.8 L553.1 416.3Z M561.0 405.1 L566.0 404.7 L566.4 406.8 L561.4 406.3Z M561.8 434.2 L566.0 434.2 L565.2 438.0 L563.9 441.3 L570.6 441.3 L570.6 442.6 L563.5 443.0 L562.2 439.7Z M563.1 448.8 L564.8 448.8 L564.8 452.0 L563.1 452.0Z M563.3 448.0 L565.0 448.0 L564.6 449.7 L563.5 449.7Z M577.1 520.5 L580.8 520.1 L580.8 523.0 L583.8 525.9 L582.1 528.0 L579.2 525.9 L577.5 524.7Z M600.0 510.9 L602.5 508.8 L602.5 512.6Z M600.8 559.8 L604.2 559.7 L604.2 561.8 L601.2 561.8Z M606.2 567.2 L607.9 567.2 L607.9 568.8 L606.2 568.8Z M615.4 565.0 L618.8 566.0 L618.8 567.7 L616.7 567.1Z M449.3 219.3 L452.7 220.2 L458.9 218.9 L459.3 221.0 L452.7 222.0 L451.0 221.8Z M446.4 218.1 L448.1 217.2 L448.9 218.9 L447.2 219.8Z M459.8 213.1 L461.8 213.1 L461.8 214.8 L460.2 215.6Z M462.2 223.9 L464.8 223.9 L464.3 225.6 L462.7 225.2Z M476.0 219.3 L480.0 218.5 L480.0 220.6 L476.4 220.8Z M504.8 209.6 L506.4 208.3 L508.1 209.6 L508.1 211.7 L506.0 212.9 L504.8 212.1Z M522.7 207.1 L524.3 206.2 L526.4 207.1 L526.4 209.6 L524.3 210.0 L523.1 209.0Z M483.5 216.7 L493.5 215.4 L493.9 216.7 L484.3 218.3Z M492.7 210.0 L501.0 209.0 L501.0 210.0 L493.5 211.2Z M546.0 217.1 L551.0 211.7 L555.2 210.4 L552.7 213.8 L551.4 216.7 L548.5 217.5Z M555.6 209.2 L558.5 209.2 L558.5 210.4 L556.0 210.4Z M560.2 213.8 L562.7 213.8 L562.7 215.0 L560.6 215.0Z M557.2 216.2 L559.8 216.2 L559.8 217.5 L557.5 217.5Z M543.9 191.2 L546.4 190.4 L546.8 192.1 L544.3 192.9Z M577.2 250.2 L581.4 250.2 L581.4 251.7 L577.2 251.7Z M597.2 244.6 L600.0 243.8 L600.0 246.7Z M617.9 195.4 L622.1 194.2 L624.2 195.8 L624.6 197.5 L619.2 197.7Z M630.0 195.8 L645.8 195.8 L644.2 197.3 L636.7 197.7Z M635.4 209.3 L640.0 209.0 L639.6 210.7 L636.2 210.8Z M638.3 220.8 L641.7 220.7 L641.2 222.7 L639.2 222.9Z M623.8 243.3 L625.8 242.9 L627.9 245.4 L625.8 247.5 L624.2 247.1 L625.0 245.0Z M614.2 252.1 L622.5 251.2 L622.5 252.5 L615.0 254.0 L613.3 254.0Z M644.2 230.4 L647.1 230.0 L647.1 231.4 L645.8 231.7Z M573.1 150.1 L576.0 149.8 L575.6 151.8 L574.3 151.3Z M582.7 151.8 L584.8 151.2 L585.2 152.6 L583.1 152.6Z M553.1 180.9 L557.7 180.9 L556.8 182.6 L553.9 182.6Z M544.3 191.8 L547.7 188.4 L549.3 189.2 L546.8 191.8Z M558.1 168.8 L560.6 168.8 L560.2 170.1 L558.5 170.1Z M627.9 138.4 L630.4 137.6 L632.5 138.8 L631.7 140.5 L628.8 140.5Z M641.2 139.2 L645.0 139.2 L645.0 140.7 L641.2 140.5Z M635.8 141.3 L640.8 141.3 L640.8 143.0 L639.2 144.2 L636.7 144.2Z M611.2 147.2 L615.0 145.9 L618.3 145.1 L618.3 146.3 L615.0 148.8 L612.1 148.4Z M603.8 149.2 L605.8 149.2 L605.8 152.6 L604.2 152.6Z M607.9 155.1 L610.8 155.1 L610.8 156.8 L608.3 156.8Z M628.3 155.1 L646.7 155.1 L646.7 156.8 L641.7 157.6 L628.8 157.6Z M632.9 151.8 L635.4 151.3 L635.4 152.8 L633.3 153.0Z M602.9 169.7 L605.4 169.7 L605.0 171.5 L603.3 171.5Z M608.8 170.3 L612.5 170.1 L610.4 172.8Z M616.7 188.4 L620.8 188.4 L620.8 189.8 L617.1 189.8Z M621.2 139.7 L623.3 139.7 L622.9 140.9 L621.7 140.7Z M568.1 258.1 L571.8 257.8 L572.7 260.2 L569.3 259.8Z M602.9 254.3 L605.0 253.9 L607.9 256.4 L607.1 257.8 L604.6 256.4Z M616.7 252.2 L622.5 252.2 L622.5 253.7 L617.1 253.9Z M615.0 294.3 L617.5 293.9 L617.9 295.6 L615.4 295.6Z M634.2 297.2 L639.2 297.2 L639.2 298.9 L635.0 298.9Z M647.5 290.2 L649.6 289.8 L649.6 293.5 L647.9 293.5Z M636.2 278.5 L638.3 278.5 L638.3 279.8Z M571.9 412.4 L576.9 412.1 L576.1 416.2 L574.8 416.2Z M575.4 417.1 L578.8 417.1 L579.8 421.5 L579.8 431.5 L577.2 433.4 L572.2 433.4 L572.9 432.1 L571.0 431.2 L572.6 429.0 L574.8 426.8 L576.0 425.2 L572.2 424.0 L571.9 422.8 L574.8 421.8 L570.4 419.6 L572.9 418.1Z M467.1 325.4 L470.9 325.2 L470.9 327.6 L467.8 327.6Z M469.6 329.2 L473.4 328.9 L475.2 332.0 L474.6 334.5 L471.5 334.8 L470.9 332.0Z M462.8 327.0 L465.2 326.4 L465.9 329.5 L464.0 330.8Z M474.0 336.7 L478.1 336.4 L479.0 339.5 L478.4 343.2 L475.2 342.6 L476.5 340.1 L474.0 338.9Z M463.1 340.4 L466.5 340.4 L466.5 345.1 L465.6 345.1 L465.6 342.0 L464.0 342.0 L464.0 344.5 L463.1 344.5Z M460.9 338.2 L464.6 337.9 L464.6 339.5 L461.2 339.8Z M487.8 348.2 L492.0 347.0 L492.0 357.0 L489.6 355.8 L489.9 350.8 L487.8 352.0Z M481.5 341.4 L484.0 342.6 L486.5 344.5 L482.8 344.5Z M449.6 328.2 L455.2 327.6 L455.2 329.2 L449.9 329.8Z M487.2 347.2 L492.9 345.4 L494.8 346.0 L494.8 348.5 L491.0 347.9 L489.1 349.8Z M502.9 365.4 L505.4 364.8 L507.2 368.5 L509.1 371.0 L506.6 371.0 L505.4 372.9 L504.4 370.1 L502.9 367.9Z M284.0 321.2 L286.9 321.2 L286.9 323.0 L284.3 323.0Z M281.2 331.4 L289.8 331.4 L288.7 332.7 L285.1 334.8 L281.4 333.7Z M277.3 334.2 L282.5 334.0 L282.5 335.5 L279.4 336.8 L275.2 336.8Z M267.9 340.5 L271.0 340.0 L270.8 341.8 L268.2 341.8Z M264.0 341.3 L266.9 341.3 L265.8 342.8 L264.0 342.6Z M279.9 323.8 L284.0 323.3 L283.5 324.6 L280.4 325.1Z M268.4 335.3 L271.5 335.3 L271.5 336.8 L270.0 336.6Z M270.0 330.3 L271.5 330.6 L272.1 332.7 L271.0 332.1Z" fill="#000" stroke="#000" stroke-width="0.35"/>
</g>
<g shape-rendering="crispEdges" stroke="#000" stroke-width="1"><line x1="353" y1="241.5" x2="377" y2="241.5"/><line x1="365.5" y1="229" x2="365.5" y2="253"/><line x1="353" y1="229" x2="377" y2="253"/><line x1="353" y1="253" x2="377" y2="229"/></g>
<path d="M292 290H294V302.8H292Z M289 292L290.6 292L292 290.2V294H289Z" fill="#000"/>
<filter id="th" x="0" y="0" width="768" height="768" filterUnits="userSpaceOnUse" color-interpolation-filters="sRGB"><feComponentTransfer><feFuncA type="discrete" tableValues="0 1"/></feComponentTransfer></filter>
<g xml:space="preserve" filter="url(#th)">
<text transform="translate(14.49,22.6) scale(0.9459,1.000)" font-size="22" stroke="#000" stroke-width="0.82" stroke-linejoin="round" font-weight="bold">CO&#160;&#160;source contributions in nested domain for</text>
<text transform="translate(480.99,22.6) scale(0.9333,1.000)" font-size="22" stroke="#000" stroke-width="0.83" stroke-linejoin="round" font-weight="bold">NP3_20080421</text>
<text transform="translate(24.52,49.5) scale(0.9802,1.020)" font-size="20" stroke="#000" stroke-width="1.00" stroke-linejoin="round">Start time of sampling 20080422. 20944</text>
<text transform="translate(401.33,49.5) scale(0.9795,1.020)" font-size="20" stroke="#000" stroke-width="1.00" stroke-linejoin="round">End time of sampling 20080422. 21006</text>
<text transform="translate(91.83,76.5) scale(0.9822,1.020)" font-size="20" stroke="#000" stroke-width="1.00" stroke-linejoin="round">Lower release height&#160;&#160;543 hPa</text>
<text transform="translate(402.63,76.5) scale(0.9785,1.020)" font-size="20" stroke="#000" stroke-width="1.00" stroke-linejoin="round">Upper release height&#160;&#160;529 hPa</text>
<text transform="translate(139.80,101.5) scale(0.9804,1.020)" font-size="20" stroke="#000" stroke-width="1.00" stroke-linejoin="round">Aerosol tracer used, meteorological data are from GFS</text>
<text transform="translate(6.26,644.6) scale(0.9979,0.970)" font-size="19" stroke="#000" stroke-width="0.81" stroke-linejoin="round" font-weight="bold">0.00</text>
<text transform="translate(85.78,644.6) scale(0.9740,0.970)" font-size="19" stroke="#000" stroke-width="0.82" stroke-linejoin="round" font-weight="bold">0.04</text>
<text transform="translate(150.79,644.6) scale(0.9645,0.970)" font-size="19" stroke="#000" stroke-width="0.83" stroke-linejoin="round" font-weight="bold">0.08</text>
<text transform="translate(214.57,644.6) scale(0.9868,0.970)" font-size="19" stroke="#000" stroke-width="0.82" stroke-linejoin="round" font-weight="bold">0.16</text>
<text transform="translate(278.62,644.6) scale(0.9199,0.970)" font-size="19" stroke="#000" stroke-width="0.85" stroke-linejoin="round" font-weight="bold">0.31</text>
<text transform="translate(342.79,644.6) scale(0.9671,0.970)" font-size="19" stroke="#000" stroke-width="0.83" stroke-linejoin="round" font-weight="bold">0.63</text>
<text transform="translate(407.62,644.6) scale(0.9749,0.970)" font-size="19" stroke="#000" stroke-width="0.82" stroke-linejoin="round" font-weight="bold">1.25</text>
<text transform="translate(471.18,644.6) scale(0.9671,0.970)" font-size="19" stroke="#000" stroke-width="0.83" stroke-linejoin="round" font-weight="bold">2.50</text>
<text transform="translate(535.77,644.6) scale(0.9645,0.970)" font-size="19" stroke="#000" stroke-width="0.83" stroke-linejoin="round" font-weight="bold">5.00</text>
<text transform="translate(592.65,644.6) scale(0.9463,0.970)" font-size="19" stroke="#000" stroke-width="0.83" stroke-linejoin="round" font-weight="bold">10.00</text>
<text transform="translate(656.88,644.6) scale(0.9628,0.970)" font-size="19" stroke="#000" stroke-width="0.83" stroke-linejoin="round" font-weight="bold">20.00</text>
<text transform="translate(713.04,644.6) scale(0.9764,0.970)" font-size="19" stroke="#000" stroke-width="0.82" stroke-linejoin="round" font-weight="bold">40.00</text>
<text transform="translate(305.92,672.5) scale(0.9858,1.020)" font-size="20" stroke="#000" stroke-width="1.00" stroke-linejoin="round">10E-10 ppbv / m2</text>
<text transform="translate(64.53,702.5) scale(0.9814,1.020)" font-size="20" stroke="#000" stroke-width="1.00" stroke-linejoin="round">Maximum value&#160;&#160;0.130E-13 ppbv / m2</text>
<text transform="translate(434.90,702.5) scale(0.9933,1.020)" font-size="20" stroke="#000" stroke-width="0.99" stroke-linejoin="round">Total mixing ratio</text>
<text transform="translate(626.83,702.5) scale(0.9565,1.020)" font-size="20" stroke="#000" stroke-width="1.01" stroke-linejoin="round">0.0 ppbv</text>
<text transform="translate(80.75,724.6) scale(1.0653,1.000)" font-size="16" stroke="#000" stroke-width="0.82" stroke-linejoin="round">American</text>
<text transform="translate(191.17,724.6) scale(1.0475,1.000)" font-size="16" stroke="#000" stroke-width="0.83" stroke-linejoin="round">0.0 ppbv</text>
<text transform="translate(308.96,724.6) scale(1.0788,1.000)" font-size="16" stroke="#000" stroke-width="0.82" stroke-linejoin="round">European</text>
<text transform="translate(421.67,724.6) scale(1.0524,1.000)" font-size="16" stroke="#000" stroke-width="0.83" stroke-linejoin="round">0.0 ppbv</text>
<text transform="translate(539.75,724.6) scale(1.1013,1.000)" font-size="16" stroke="#000" stroke-width="0.81" stroke-linejoin="round">Asian</text>
<text transform="translate(620.67,724.6) scale(1.0524,1.000)" font-size="16" stroke="#000" stroke-width="0.83" stroke-linejoin="round">0.0 ppbv</text>
<text transform="translate(49.26,747.6) scale(1.0865,1.000)" font-size="16" stroke="#000" stroke-width="0.81" stroke-linejoin="round">South American</text>
<text transform="translate(209.67,747.6) scale(1.0442,1.000)" font-size="16" stroke="#000" stroke-width="0.83" stroke-linejoin="round">0.0 ppbv</text>
<text transform="translate(328.46,747.6) scale(1.0510,1.000)" font-size="16" stroke="#000" stroke-width="0.83" stroke-linejoin="round">African</text>
<text transform="translate(418.66,747.6) scale(1.0607,1.000)" font-size="16" stroke="#000" stroke-width="0.82" stroke-linejoin="round">0.0 ppbv</text>
<text transform="translate(537.95,747.6) scale(1.0660,1.000)" font-size="16" stroke="#000" stroke-width="0.82" stroke-linejoin="round">Australian</text>
<text transform="translate(651.36,747.6) scale(1.0689,1.000)" font-size="16" stroke="#000" stroke-width="0.82" stroke-linejoin="round">0.0 ppbv</text>
<text transform="translate(344.69,338.2) scale(1.0642,0.970)" font-size="19" stroke="#000" stroke-width="0.98" stroke-linejoin="round">2</text>
<text transform="translate(240.58,334.9) scale(1.0750,0.970)" font-size="19" stroke="#000" stroke-width="0.98" stroke-linejoin="round">3</text>
<text transform="translate(232.42,419.6) scale(1.0105,0.970)" font-size="19" stroke="#000" stroke-width="1.01" stroke-linejoin="round">4</text>
<text transform="translate(259.50,474.6) scale(1.0526,0.970)" font-size="19" stroke="#000" stroke-width="0.99" stroke-linejoin="round">5</text>
<text transform="translate(201.27,527.1) scale(1.0870,0.970)" font-size="19" stroke="#000" stroke-width="0.97" stroke-linejoin="round">6</text>
<text transform="translate(183.62,523.3) scale(0.9254,0.970)" font-size="19" stroke="#000" stroke-width="1.06" stroke-linejoin="round">7</text>
<text transform="translate(191.09,512.1) scale(1.0638,0.970)" font-size="19" stroke="#000" stroke-width="0.98" stroke-linejoin="round">8</text>
<text transform="translate(138.33,441.4) scale(1.0187,0.970)" font-size="19" stroke="#000" stroke-width="1.01" stroke-linejoin="round">9</text>
</g>
</svg>
</body></html>
